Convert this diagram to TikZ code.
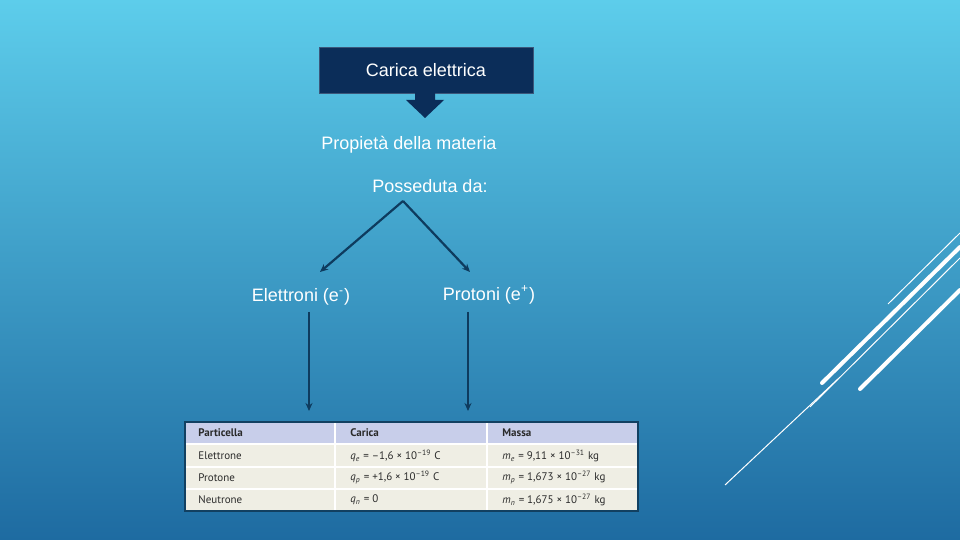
\documentclass[tikz,border=0pt]{standalone}
\usepackage{fontspec}
\setmainfont{Liberation Sans}
\newfontfamily\tabfont{PT Sans}
\usepackage{tikz}
\usetikzlibrary{arrows.meta,positioning}
\definecolor{slidetop}{HTML}{5DCDEB}
\definecolor{slidebot}{HTML}{1E6BA1}
\definecolor{navy}{HTML}{0B2D59}
\definecolor{arrowblue}{HTML}{0E3B5E}
\definecolor{headlav}{HTML}{C8CEEA}
\definecolor{cellbeige}{HTML}{EFEEE4}
\definecolor{tabtext}{HTML}{2B2B2B}
\newcommand{\sym}[2]{\textit{#1}\textsubscript{\textit{#2}}}
\newcommand{\ex}[1]{\textsuperscript{#1}}

\begin{document}
\begin{tikzpicture}[x=0.5pt,y=-0.5pt,
  title/.style={fill=navy,draw=navy!80!white,minimum width=107pt,minimum height=23pt,text=white,font=\fontsize{9}{11}\selectfont,inner sep=0pt},
  plain/.style={text=white,font=\fontsize{9}{11}\selectfont,inner sep=1pt},
  cell/.style={anchor=west,text=tabtext,font=\tabfont\fontsize{5.5}{6.5}\selectfont,inner sep=0pt},
  headcell/.style={cell,font=\tabfont\bfseries\fontsize{5.5}{6.5}\selectfont},
  arr/.style={-{Stealth[length=4pt,width=3.5pt]},draw=arrowblue,line width=1.1pt},
  deco/.style={draw=white,line width=0.5pt},
  decothick/.style={draw=white,line width=2pt,line cap=round}
]
% slide background
\shade[top color=slidetop,bottom color=slidebot] (0,0) rectangle (960,540);
\useasboundingbox (0,0) rectangle (960,540);

% title box with block arrow
\node[title] (carica) at (426,70) {Carica elettrica};
\fill[navy] (415,93) -- (435,93) -- (435,100) -- (444,100) -- (425,118) -- (406,100) -- (415,100) -- cycle;

\node[plain] (prop) at (409,145) {Propietà della materia};
\node[plain] (poss) at (430,186) {Posseduta da:};
\node[plain] (elet) at (301,297) {Elettroni (e\textsuperscript{-})};
\node[plain] (prot) at (489,295) {Protoni (e\textsuperscript{+})};

\coordinate (fork) at (403,201);
\coordinate (eletin) at (320,272);
\coordinate (protin) at (470,272);
\coordinate (eletout) at (309,312);
\coordinate (eletend) at (309,411);
\coordinate (protout) at (468,312);
\coordinate (protend) at (468,411);

\draw[arr] (fork) -- (eletin);
\draw[arr] (fork) -- (protin);
\draw[arr] (eletout) -- (eletend);
\draw[arr] (protout) -- (protend);

% table
\fill[cellbeige] (185,422) rectangle (638,511);
\fill[headlav] (185,422) rectangle (638,444);
\draw[white,line width=0.6pt] (185,444) -- (638,444) (185,467) -- (638,467) (185,489) -- (638,489)
  (335,422) -- (335,511) (487,422) -- (487,511);
\draw[slidebot!60!black,line width=0.6pt] (185,422) rectangle (638,511);

\node[headcell] (hpart) at (198,433) {Particella};
\node[headcell] (hcar) at (350,433) {Carica};
\node[headcell] (hmas) at (502,433) {Massa};
\node[cell] (pel) at (198,455.5) {Elettrone};
\node[cell] (ppr) at (198,478) {Protone};
\node[cell] (pne) at (198,500) {Neutrone};
\node[cell] (cel) at (350,455.5) {\sym{q}{e} = –1,6 × 10\ex{–19} C};
\node[cell] (cpr) at (350,478) {\sym{q}{p} = +1,6 × 10\ex{–19} C};
\node[cell] (cne) at (350,500) {\sym{q}{n} = 0};
\node[cell] (mel) at (502,455.5) {\sym{m}{e} = 9,11 × 10\ex{–31} kg};
\node[cell] (mpr) at (502,478) {\sym{m}{p} = 1,673 × 10\ex{–27} kg};
\node[cell] (mne) at (502,500) {\sym{m}{n} = 1,675 × 10\ex{–27} kg};

% decorative lines
\draw[deco] (888,304) -- (960,233);
\draw[decothick] (822,383) -- (960,247);
\draw[deco] (810,407) -- (960,258);
\draw[deco] (725,485) -- (838,379);
\draw[decothick] (860,389) -- (960,290);
\end{tikzpicture}
\end{document}
